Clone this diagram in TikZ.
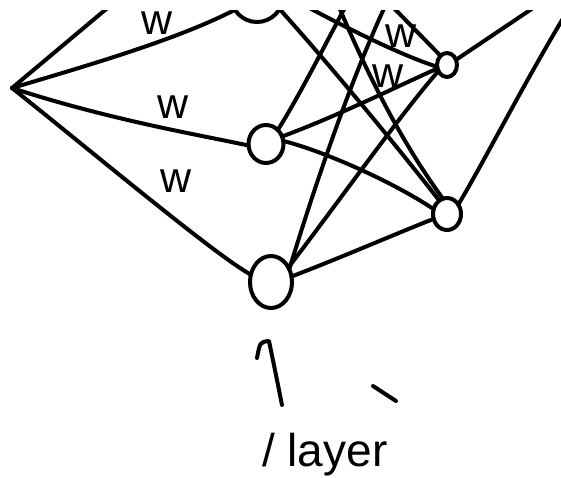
\documentclass[tikz,border=0pt]{standalone}
\usepackage{fontspec}
\setmainfont{Liberation Sans}
\usetikzlibrary{shapes.geometric}
\begin{document}
\begin{tikzpicture}[x=1pt,y=-1pt,
  stroke/.style={line width=4pt, line cap=round, line join=round},
  neuron/.style={ellipse, draw, line width=4pt, inner sep=0pt, outer sep=0pt},
  wlabel/.style={font=\fontsize{43}{43}\selectfont, inner sep=0pt},
  txtlabel/.style={font=\fontsize{46}{46}\selectfont, inner sep=0pt, anchor=base west}
]
\fill[white] (0,0) rectangle (561,477);
\useasboundingbox (0,0) rectangle (561,477);
\begin{scope}
\clip (0,10) rectangle (561,477);
% nodes
\coordinate (inx) at (12,88);
\node[neuron, minimum width=52pt, minimum height=52pt] (hA) at (257,-4) {};
\node[neuron, minimum width=35pt, minimum height=38pt] (hB) at (266,144) {};
\node[neuron, minimum width=42pt, minimum height=52pt] (hC) at (271,282) {};
\node[neuron, minimum width=20pt, minimum height=24pt] (oA) at (447,65) {};
\node[neuron, minimum width=28pt, minimum height=32pt] (oB) at (447,214) {};
% free ends
\coordinate (o1) at (117,0);
\coordinate (o3) at (334,-5);
\coordinate (o4) at (386,0);
\coordinate (o5) at (349,0);
\coordinate (o6) at (388,0);
\coordinate (o7) at (545,0);
\coordinate (o8) at (568,10);
% input connectors
\draw[stroke] (inx) -- (o1);
\draw[stroke] (inx) .. controls (100,62) and (180,38) .. (hA.212);
\draw[stroke] (inx) .. controls (110,120) and (200,135) .. (hB.185);
\draw[stroke] (inx) .. controls (90,150) and (215,255) .. (hC.160);
% hidden to output
\draw[stroke] (hA.-30) .. controls (330,65) and (400,150) .. (oB.120);
\draw[stroke] (hA.5) .. controls (340,25) and (400,55) .. (oA.190);
\draw[stroke] (o3) .. controls (365,70) and (400,140) .. (oB.105);
\draw[stroke] (o4) -- (oA.125);
\draw[stroke] (hB.50) .. controls (300,95) and (330,35) .. (o5);
\draw[stroke] (hB.25) .. controls (340,115) and (400,85) .. (oA.200);
\draw[stroke] (hB.10) .. controls (320,150) and (390,180) .. (oB.160);
\draw[stroke] (hC.35) .. controls (312,195) and (350,80) .. (o6);
\draw[stroke] (hC.40) .. controls (340,200) and (400,115) .. (oA.215);
\draw[stroke] (hC.15) .. controls (340,258) and (400,232) .. (oB.200);
\draw[stroke] (oA.30) -- (o7);
\draw[stroke] (oB.40) .. controls (485,160) and (520,90) .. (o8);
\end{scope}
% labels
\node[wlabel] (w1) at (157,23) {w};
\node[wlabel] (w2) at (173,107) {w};
\node[wlabel] (w3) at (176,181) {w};
\node[wlabel] (w4) at (401,36) {w};
\node[wlabel] (w5) at (388,76) {w};
% arrow and caption
\coordinate (ar1) at (282,405);
\coordinate (ar2) at (269,341);
\coordinate (ar3) at (257,358);
\draw[stroke] (ar1) .. controls (276,375) .. (ar2) .. controls (260,342) .. (ar3);
\coordinate (d1) at (373,386);
\coordinate (d2) at (396,401);
\draw[stroke] (d1) -- (d2);
\node[txtlabel] (lbl) at (262,466) {/ layer};
\end{tikzpicture}
\end{document}
